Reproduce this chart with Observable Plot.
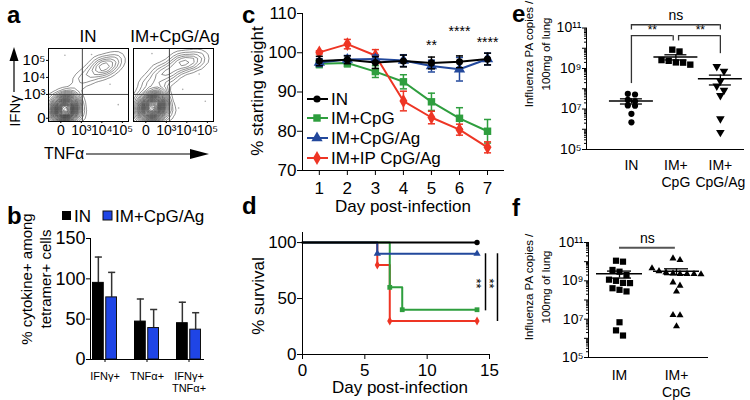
<!DOCTYPE html>
<html><head><meta charset="utf-8">
<script src="https://cdn.jsdelivr.net/npm/d3@7"></script>
<script src="https://cdn.jsdelivr.net/npm/@observablehq/plot@0.6"></script>
<style>
body{margin:0;background:#fff;}
#fig{position:relative;width:750px;height:400px;overflow:hidden;background:#fff;font-family:'Liberation Sans',Arial,Helvetica,sans-serif;}
</style></head><body><div id="fig"></div>
<script>
// ================= DATA =================
// a: flow cytometry (estimated event clusters: [TNFa, IFNg, weight])
const flowPanels = ["IN", "IM+CpG/Ag"];
const flowTickValsX = [0, 1, 2, 3];
const flowTickTextX = ["0", "10³", "10⁴", "10⁵"];
const flowTickValsY = [-0.4, 1, 2, 3];
const flowTickTextY = ["0", "10³", "10⁴", "10⁵"];
const flowGateX = [1.05, 1.15];
const flowGateY = [1, 1];
const eventsIN = [
  [0.23,0.17,10],[0.0,-0.1,5],[0.45,0.45,5],[0.1,0.5,4],[0.4,-0.15,4],[-0.2,0.25,3],[0.7,0.2,3],
  [-0.15,-0.4,2.5],[0.2,-0.45,2.5],[0.6,0.75,2],[0.25,0.85,2],[-0.3,0.6,1.5],[0.85,-0.2,1.5],[-0.4,-0.2,1.5],
  [0.8,1.7,0.8],[1.1,1.95,1],[1.4,2.15,1.2],[1.7,2.4,1.6],[2.0,2.55,2],[2.3,2.75,2],[2.6,2.95,1.5],
  [2.85,3.1,0.8],[1.9,2.8,1],[2.3,2.4,0.8]
];
const eventsIM = [
  [0.33,0.25,10],[0.1,0.0,5],[0.55,0.55,5],[0.2,0.6,4],[0.5,-0.1,4],[-0.15,0.3,3],[0.85,0.3,3],
  [-0.1,-0.35,2.5],[0.35,-0.45,2.5],[0.7,0.9,2.5],[0.35,1.0,2],[-0.25,0.7,1.5],[1.0,-0.1,1.5],[-0.4,-0.15,1.5],[0.7,1.25,1],
  [-0.1,1.55,0.8],[0.2,1.75,1],[0.5,1.95,1.2],[0.8,2.15,1.3],[1.1,2.35,1.5],[1.4,2.6,2],[1.8,2.8,2.5],
  [2.15,2.95,2.2],[2.5,3.05,1.5],[2.8,3.15,0.8],[0.6,2.45,0.8],[1.2,2.0,0.8],[1.6,3.05,1]
];
const rareIN = [[1.5,3.35],[2.4,1.6],[0.2,3.3],[2.8,0.4]];
const rareIM = [[1.8,1.3],[2.6,2.2],[0.3,3.4],[2.9,0.6],[1.6,0.2]];

// b: cytokine bars
const cytoCats = ["IFNγ+", "TNFα+", "IFNγ+\nTNFα+"];
const cytoSeries = ["IN", "IM+CpG/Ag"];
const cytoIN = [95, 47, 45];
const cytoINsd = [32, 28, 26];
const cytoIM = [77, 39, 37];
const cytoIMsd = [31, 23, 21];

// c: weight
const days = [1, 2, 3, 4, 5, 6, 7];
const weightSeries = ["IN", "IM+CpG", "IM+CpG/Ag", "IM+IP CpG/Ag"];
const weightIN = [97.9, 98.2, 97.5, 97.9, 97.4, 97.7, 98.4];
const weightINsem = [1.2, 1.0, 1.5, 1.5, 1.5, 1.5, 1.5];
const weightCpG = [97.2, 97.4, 95.2, 92.6, 87.5, 83.3, 80.0];
const weightCpGsem = [1.0, 1.0, 1.5, 1.8, 2.2, 2.7, 3.0];
const weightCpGAg = [97.5, 98.3, 98.4, 98.0, 96.6, 95.8, 98.4];
const weightCpGAgsem = [1.0, 1.0, 1.0, 1.5, 1.5, 3.0, 1.5];
const weightIP = [100.1, 102.2, 99.3, 87.7, 83.5, 80.4, 75.9];
const weightIPsem = [0.4, 1.2, 1.5, 2.5, 1.6, 1.4, 1.4];
const weightSig = [{day: 5, y: 101.8, label: "**"}, {day: 6, y: 105.4, label: "****"}, {day: 7, y: 102.6, label: "****"}];

// d: survival
const survIN_t = [0, 14], survIN_s = [100, 100];
const survCpG_t = [0, 7, 8, 14], survCpG_s = [100, 60, 40, 40];
const survCpGAg_t = [0, 6, 14], survCpGAg_s = [100, 90, 90];
const survIP_t = [0, 6, 7, 14], survIP_s = [100, 80, 30, 30];
const survSig = [{x: 14.68, y1: 90, y2: 39, tx: 13.95}, {x: 15.64, y1: 90, y2: 29.5, tx: 15.0}];

// e: viral load
const eCats = ["IN", "IM+\nCpG", "IM+\nCpG/Ag"];
const eIN = [5.6e7, 5.2e7, 2.8e7, 2.4e7, 1.5e7, 1.45e7, 5.8e6, 2.2e6];
const eCpG = [8.5e9, 6.9e9, 2.6e9, 2.4e9, 2.0e9, 1.95e9, 1.55e9];
const eCpGAg = [1.25e9, 7.4e8, 2.4e8, 1.35e8, 8.5e7, 4.6e7, 3.3e6, 7e5];
const eBracketH = [{x1: 0, x2: 2, y: 1.45e11}, {x1: 0, x2: 0.94, y: 4.2e10}, {x1: 1.06, x2: 2, y: 4.2e10}];
const eBracketV = [{x: 0, y1: 1.45e11, y2: 8e10}, {x: 2, y1: 1.45e11, y2: 8e10}, {x: 0, y1: 4.2e10, y2: 1.8e8},
  {x: 0.94, y1: 4.2e10, y2: 2.3e10}, {x: 1.06, y1: 4.2e10, y2: 2.3e10}, {x: 2, y1: 4.2e10, y2: 5.4e9}];
const eSigText = [{x: 1, y: 4e11, label: "ns", size: 14}, {x: 0.47, y: 7.5e10, label: "**", size: 12}, {x: 1.55, y: 7.5e10, label: "**", size: 12}];

// f: viral load
const fCats = ["IM", "IM+\nCpG"];
const fIM = [1.12e10, 1.0e10, 3.7e9, 3.0e9, 2.0e9, 1.15e9, 1.0e9, 7.8e8, 7.6e8, 4.1e8, 3.4e8, 2.8e8, 6.9e6, 2.6e6, 1.4e6];
const fCpG = [1.48e10, 1.23e10, 4.5e9, 3.2e9, 2.75e9, 2.45e9, 2.3e9, 2.25e9, 2.3e9, 2.2e9, 8.3e8, 5.6e8, 2.75e8, 1.66e7, 1.6e7, 4.3e6];
const fSigLine = [{x1: 0, x2: 0.98, y: 5.4e10}];
const fSigText = [{x: 0.49, y: 1.6e11, label: "ns"}];

// ================= STYLE =================
const FONT = "'Liberation Sans', Arial, Helvetica, sans-serif";
const colors = {"IN": "#000000", "IM+CpG": "#2e9e3e", "IM+CpG/Ag": "#22489c", "IM+IP CpG/Ag": "#ee3524"};
const symbols = {"IN": "circle", "IM+CpG": "square", "IM+CpG/Ag": "triangle", "IM+IP CpG/Ag": "diamond"};
const d3sym = {"circle": d3.symbolCircle, "square": d3.symbolSquare, "triangle": d3.symbolTriangle, "diamond": d3.symbolDiamond};
const BLUE_BAR = "#1f45e6";
const capSym = {draw(ctx, size) { const w = Math.sqrt(size); ctx.moveTo(-w, 0); ctx.lineTo(w, 0); }};
const fig = document.getElementById("fig");
const st = (fs) => ({fontFamily: FONT, fontSize: fs + "px", background: "none", overflow: "visible", color: "#000"});
function place(el, left, top) { el.style.position = "absolute"; el.style.left = left + "px"; el.style.top = top + "px"; fig.appendChild(el); }
const sup = {"0":"⁰","1":"¹","2":"²","3":"³","4":"⁴","5":"⁵","6":"⁶","7":"⁷","8":"⁸","9":"⁹"};
const pow10 = d => "10" + String(Math.round(Math.log10(d))).split("").map(c => sup[c]).join("");

// ================= PANEL a =================
function flowPlot(events, rare, gx, gy, showY, w, ml, mr) {
  return Plot.plot({
    width: w, height: 140, marginLeft: ml, marginRight: mr, marginTop: 48, marginBottom: 19,
    style: st(15),
    x: {domain: [-0.6, 3.3]}, y: {domain: [-0.59, 3.7]},
    marks: [
      Plot.density(events, {x: d => d[0], y: d => d[1], weight: d => d[2], bandwidth: 4.5, thresholds: 32, stroke: "#222", strokeWidth: 0.5, clip: true}),
      Plot.dot(rare, {x: d => d[0], y: d => d[1], r: 0.8, fill: "#aaa", stroke: "none"}),
      Plot.ruleX([gx], {stroke: "#444", strokeWidth: 1}),
      Plot.ruleY([gy], {stroke: "#444", strokeWidth: 1}),
      Plot.frame({stroke: "#000", strokeWidth: 1}),
      Plot.axisX({ticks: flowTickValsX, tickFormat: d => flowTickTextX[flowTickValsX.indexOf(d)], tickSize: 2, tickPadding: 2, label: null, fontSize: 14}),
      showY ? Plot.axisY({ticks: flowTickValsY, tickFormat: d => flowTickTextY[flowTickValsY.indexOf(d)], tickSize: 2, tickPadding: 1, label: null}) : Plot.axisY({ticks: [], label: null})
    ]
  });
}
place(flowPlot(eventsIN, rareIN, flowGateX[0], flowGateY[0], true, 130, 48, 2), 0, 0);
place(flowPlot(eventsIM, rareIM, flowGateX[1], flowGateY[1], false, 92, 2, 10), 131, 0);

// ================= PANEL b =================
const bRows = cytoCats.flatMap((c, i) => [
  {cat: c, s: cytoSeries[0], v: cytoIN[i], e: cytoINsd[i]},
  {cat: c, s: cytoSeries[1], v: cytoIM[i], e: cytoIMsd[i]}]);
const bOff = 6.65;
place(Plot.plot({
  width: 210, height: 175, marginLeft: 90, marginRight: 7, marginTop: 13, marginBottom: 41,
  style: st(18),
  x: {domain: cytoCats, paddingInner: 0.4, paddingOuter: 0.03},
  y: {domain: [0, 150]},
  marks: [
    Plot.ruleX(bRows.filter(d => d.s === "IN"), {x: "cat", y1: "v", y2: d => d.v + d.e, dx: -bOff, stroke: "#333", strokeWidth: 1.5}),
    Plot.ruleX(bRows.filter(d => d.s !== "IN"), {x: "cat", y1: "v", y2: d => d.v + d.e, dx: bOff, stroke: "#333", strokeWidth: 1.5}),
    Plot.dot(bRows.filter(d => d.s === "IN"), {x: "cat", y: d => d.v + d.e, dx: -bOff, symbol: capSym, r: 2, stroke: "#333", strokeWidth: 1.5, fill: "none"}),
    Plot.dot(bRows.filter(d => d.s !== "IN"), {x: "cat", y: d => d.v + d.e, dx: bOff, symbol: capSym, r: 2, stroke: "#333", strokeWidth: 1.5, fill: "none"}),
    Plot.barY(bRows.filter(d => d.s === "IN"), {x: "cat", y: "v", fill: "#000", stroke: "#000", insetLeft: 0.5, insetRight: 13.75}),
    Plot.barY(bRows.filter(d => d.s !== "IN"), {x: "cat", y: "v", fill: BLUE_BAR, stroke: "#111", strokeWidth: 1, insetLeft: 13.75, insetRight: 0.5}),
    Plot.frame({anchor: "left"}), Plot.frame({anchor: "bottom"}),
    Plot.axisY({ticks: [0, 50, 100, 150], tickSize: 4, tickPadding: 1, label: null}),
    Plot.axisX({tickSize: 3, tickPadding: 9, label: null, fontSize: 11, lineHeight: 1.1})
  ]
}), 0, 225);

// ================= PANEL c =================
const wVals = [weightIN, weightCpG, weightCpGAg, weightIP];
const wSems = [weightINsem, weightCpGsem, weightCpGAgsem, weightIPsem];
const wRows = weightSeries.flatMap((s, si) => days.map((d, i) => ({s, day: d, v: wVals[si][i], e: wSems[si][i]})));
const drawOrder = ["IM+CpG", "IM+IP CpG/Ag", "IM+CpG/Ag", "IN"];
const cMarks = [];
for (const s of drawOrder) {
  const rows = wRows.filter(d => d.s === s);
  cMarks.push(
    Plot.ruleX(rows, {x: "day", y1: d => d.v - d.e, y2: d => d.v + d.e, stroke: colors[s], strokeWidth: 1.5}),
    Plot.dot(rows, {x: "day", y: d => d.v + d.e, symbol: capSym, r: 2, stroke: colors[s], strokeWidth: 1.5, fill: "none"}),
    Plot.dot(rows, {x: "day", y: d => d.v - d.e, symbol: capSym, r: 2, stroke: colors[s], strokeWidth: 1.5, fill: "none"}),
    Plot.line(rows, {x: "day", y: "v", stroke: colors[s], strokeWidth: 2}),
    Plot.dot(rows, {x: "day", y: "v", symbol: symbols[s], r: s === "IN" ? 3.6 : 4.2, fill: colors[s], stroke: "none"})
  );
}
place(Plot.plot({
  width: 270, height: 215, marginLeft: 62, marginRight: 7, marginTop: 13, marginBottom: 45,
  style: st(17),
  x: {domain: [0.4, 7.57]}, y: {domain: [70, 110]},
  marks: [
    ...cMarks,
    Plot.text(weightSig, {x: "day", y: "y", text: "label", fontSize: 14, fill: "#000"}),
    Plot.frame({anchor: "left"}), Plot.frame({anchor: "bottom"}),
    Plot.axisY({ticks: [70, 80, 90, 100, 110], tickSize: 5, tickPadding: 1, label: null}),
    Plot.axisX({ticks: days, tickSize: 5, tickPadding: 6, label: null})
  ]
}), 240, 0);

// ================= PANEL d =================
const sT = [survIN_t, survCpG_t, survCpGAg_t, survIP_t];
const sS = [survIN_s, survCpG_s, survCpGAg_s, survIP_s];
const sRows = weightSeries.flatMap((s, si) => sT[si].map((t, i) => ({s, t, v: sS[si][i]})));
const dOrder = ["IM+IP CpG/Ag", "IM+CpG", "IM+CpG/Ag", "IN"];
const dMarks = [];
for (const s of dOrder) {
  const rows = sRows.filter(d => d.s === s);
  dMarks.push(
    Plot.line(rows, {x: "t", y: "v", stroke: colors[s], strokeWidth: 2, curve: "step-after"}),
    Plot.dot(rows.filter(d => d.t > 0), {x: "t", y: "v", symbol: symbols[s], r: 2.7, fill: colors[s]})
  );
}
place(Plot.plot({
  width: 270, height: 185, marginLeft: 62, marginRight: 21, marginTop: 17, marginBottom: 46,
  style: st(17),
  x: {domain: [0, 15]}, y: {domain: [0, 109]},
  marks: [
    ...dMarks,
    Plot.ruleX(survSig, {x: "x", y1: "y1", y2: "y2", stroke: "#000", strokeWidth: 1.5}),
    Plot.text(survSig, {x: "tx", y: 63.4, text: () => "**", rotate: 90, fontSize: 13, fill: "#000"}),
    Plot.frame({anchor: "left"}), Plot.frame({anchor: "bottom"}),
    Plot.axisY({ticks: [0, 50, 100], tickSize: 5, tickPadding: 1, label: null}),
    Plot.axisX({ticks: [0, 5, 10, 15], tickSize: 5, tickPadding: 4, label: null})
  ]
}), 240, 215);

// ================= swarm + stats helpers =================
function swarm(vals, ci, pxDec, pxUnit, thresh, spacing) {
  const out = []; let row = [];
  const flush = () => { row.forEach((v, j) => out.push({ci, v, x: ci + (j - (row.length - 1) / 2) * spacing / pxUnit})); row = []; };
  for (const v of vals.slice().sort((a, b) => b - a)) {
    if (row.length && (Math.log10(row[0]) - Math.log10(v)) * pxDec >= thresh) flush();
    row.push(v);
  }
  flush();
  return out;
}
function meanSem(vals, i) { const m = d3.mean(vals); const s = d3.deviation(vals) / Math.sqrt(vals.length); return {i, m, lo: m - s, hi: m + s}; }
const decades = d3.range(5, 12).map(k => Math.pow(10, k));
const minorTicks = d3.range(5, 11).flatMap(k => d3.range(2, 10).map(m => m * Math.pow(10, k)));
function statMarks(stats, meanHalf, semHalf) {
  return [
    Plot.ruleY(stats, {y: "m", x1: d => d.i - meanHalf, x2: d => d.i + meanHalf, stroke: "#000", strokeWidth: 1.5}),
    Plot.ruleY(stats, {y: "hi", x1: d => d.i - semHalf, x2: d => d.i + semHalf, stroke: "#000", strokeWidth: 1.3}),
    Plot.ruleY(stats, {y: "lo", x1: d => d.i - semHalf, x2: d => d.i + semHalf, stroke: "#000", strokeWidth: 1.3}),
    Plot.ruleX(stats, {x: "i", y1: "lo", y2: "hi", stroke: "#000", strokeWidth: 1.3})
  ];
}
function logAxes() {
  return [
    Plot.frame({anchor: "left"}), Plot.frame({anchor: "bottom"}),
    Plot.axisY(minorTicks, {tickSize: 2, tickFormat: () => "", label: null}),
    Plot.axisY(decades, {tickSize: 4, tickPadding: 1, tickFormat: d => (Math.round(Math.log10(d)) % 2 === 1 ? pow10(d) : ""), label: null})
  ];
}

// ================= PANEL e =================
const eVals = [eIN, eCpG, eCpGAg];
const ePxDec = 20.25, ePxUnit = 44.5;
const ePts = eVals.flatMap((v, i) => swarm(v, i, ePxDec, ePxUnit, 5, 7.2));
const eStats = eVals.map((v, i) => meanSem(v, i));
place(Plot.plot({
  width: 240, height: 200, marginLeft: 76, marginRight: 7, marginTop: 27.5, marginBottom: 51,
  style: st(14),
  x: {domain: [-1.01, 2.52]}, y: {type: "log", domain: [1e5, 1e11]},
  marks: [
    Plot.ruleY(eBracketH, {y: "y", x1: "x1", x2: "x2", stroke: "#333", strokeWidth: 1.3}),
    Plot.ruleX(eBracketV, {x: "x", y1: "y1", y2: "y2", stroke: "#333", strokeWidth: 1.3}),
    Plot.text(eSigText, {x: "x", y: "y", text: "label", fontSize: d => d.size, fill: "#000"}),
    Plot.dot(ePts.filter(d => d.ci === 0), {x: "x", y: "v", symbol: "circle", r: 3.1, fill: "#000"}),
    Plot.dot(ePts.filter(d => d.ci === 1), {x: "x", y: "v", symbol: "square", r: 3.6, fill: "#000"}),
    Plot.dot(ePts.filter(d => d.ci === 2), {x: "x", y: "v", symbol: "triangle", r: 3.2, fill: "#000", rotate: 180}),
    ...statMarks(eStats, 22 / ePxUnit, 11 / ePxUnit),
    ...logAxes(),
    Plot.axisX({ticks: [0, 1, 2], tickFormat: d => eCats[d], tickSize: 0, tickPadding: 9, label: null, lineHeight: 1.2})
  ]
}), 510, 0);

// ================= PANEL f =================
const fVals = [fIM, fCpG];
const fPxDec = 19.17, fPxUnit = 57;
const fPts = fVals.flatMap((v, i) => swarm(v, i, fPxDec, fPxUnit, 6, 7));
const fStats = fVals.map((v, i) => meanSem(v, i));
place(Plot.plot({
  width: 240, height: 200, marginLeft: 78, marginRight: 43, marginTop: 42, marginBottom: 43,
  style: st(14),
  x: {domain: [-0.544, 1.544]}, y: {type: "log", domain: [1e5, 1e11]},
  marks: [
    Plot.ruleY(fSigLine, {y: "y", x1: "x1", x2: "x2", stroke: "#555", strokeWidth: 2}),
    Plot.text(fSigText, {x: "x", y: "y", text: "label", fontSize: 14, fill: "#000"}),
    Plot.dot(fPts.filter(d => d.ci === 0), {x: "x", y: "v", symbol: "square", r: 3.5, fill: "#000"}),
    Plot.dot(fPts.filter(d => d.ci === 1), {x: "x", y: "v", symbol: "triangle", r: 2.6, fill: "#000"}),
    ...statMarks(fStats, 23 / fPxUnit, 12 / fPxUnit),
    ...logAxes(),
    Plot.axisX({ticks: [0, 1], tickFormat: d => fCats[d], tickSize: 0, tickPadding: 11, label: null, lineHeight: 1.2})
  ]
}), 510, 200);

// ================= OVERLAY (letters, titles, labels, legends) =================
const ov = d3.create("svg").attr("width", 750).attr("height", 400)
  .style("position", "absolute").style("left", "0px").style("top", "0px").style("pointer-events", "none")
  .attr("font-family", FONT);
const letters = [["a", 7, 23], ["b", 7, 224], ["c", 242, 23], ["d", 242, 214], ["e", 512, 22], ["f", 512, 216]];
for (const [t, x, y] of letters) ov.append("text").attr("x", x).attr("y", y).attr("font-size", 24).attr("font-weight", "bold").text(t);
// a titles
ov.append("text").attr("x", 88).attr("y", 42).attr("text-anchor", "middle").attr("font-size", 17).text(flowPanels[0]);
ov.append("text").attr("x", 175).attr("y", 42).attr("text-anchor", "middle").attr("font-size", 17).text(flowPanels[1]);
// IFNg arrow + label
ov.append("line").attr("x1", 14).attr("x2", 14).attr("y1", 92).attr("y2", 58).attr("stroke", "#000").attr("stroke-width", 1.2);
ov.append("path").attr("d", "M14,47 L9.5,61 L18.5,61 Z").attr("fill", "#000");
ov.append("text").attr("transform", "translate(14,111) rotate(-90)").attr("text-anchor", "middle").attr("dominant-baseline", "central").attr("font-size", 15).text("IFNγ");
// TNFa arrow + label
ov.append("text").attr("x", 44).attr("y", 159).attr("font-size", 16).text("TNFα");
ov.append("line").attr("x1", 86).attr("x2", 194).attr("y1", 154).attr("y2", 154).attr("stroke", "#000").attr("stroke-width", 1.2);
ov.append("path").attr("d", "M209,154 L190,149 L190,159 Z").attr("fill", "#000");
// b legend
ov.append("rect").attr("x", 62).attr("y", 211).attr("width", 9).attr("height", 9).attr("fill", "#000");
ov.append("text").attr("x", 74).attr("y", 222).attr("font-size", 17).text(cytoSeries[0]);
ov.append("rect").attr("x", 103).attr("y", 211).attr("width", 9).attr("height", 9).attr("fill", BLUE_BAR).attr("stroke", "#111");
ov.append("text").attr("x", 115).attr("y", 222).attr("font-size", 17).text(cytoSeries[1]);
// b y label
ov.append("text").attr("transform", "translate(26,279) rotate(-90)").attr("text-anchor", "middle").attr("dominant-baseline", "central").attr("font-size", 15).text("% cytokine+ among");
ov.append("text").attr("transform", "translate(45,279) rotate(-90)").attr("text-anchor", "middle").attr("dominant-baseline", "central").attr("font-size", 15).text("tetramer+ cells");
// c labels
ov.append("text").attr("transform", "translate(257,91) rotate(-90)").attr("text-anchor", "middle").attr("dominant-baseline", "central").attr("font-size", 17).text("% starting weight");
ov.append("text").attr("x", 403).attr("y", 212).attr("text-anchor", "middle").attr("font-size", 17).text("Day post-infection");
// c legend
const legY = [99, 118, 138, 158];
weightSeries.forEach((s, i) => {
  ov.append("line").attr("x1", 307).attr("x2", 328).attr("y1", legY[i]).attr("y2", legY[i]).attr("stroke", colors[s]).attr("stroke-width", 2);
  const r = s === "IN" ? 3.6 : 4.2;
  ov.append("path").attr("d", d3.symbol(d3sym[symbols[s]], Math.PI * r * r)()).attr("transform", `translate(317,${legY[i]})`).attr("fill", colors[s]);
  ov.append("text").attr("x", 331).attr("y", legY[i]).attr("dominant-baseline", "central").attr("font-size", 17).text(s);
});
// d labels
ov.append("text").attr("transform", "translate(258,296) rotate(-90)").attr("text-anchor", "middle").attr("dominant-baseline", "central").attr("font-size", 17).text("% survival");
ov.append("text").attr("x", 400).attr("y", 393).attr("text-anchor", "middle").attr("font-size", 17).text("Day post-infection");
// e, f y labels
for (const [cy] of [[54], [287]]) {
  ov.append("text").attr("transform", `translate(529,${cy}) rotate(-90)`).attr("text-anchor", "middle").attr("dominant-baseline", "central").attr("font-size", 11.5).text("Influenza PA copies /");
  ov.append("text").attr("transform", `translate(546,${cy}) rotate(-90)`).attr("text-anchor", "middle").attr("dominant-baseline", "central").attr("font-size", 11.5).text("100mg of lung");
}
fig.appendChild(ov.node());
</script></body></html>
